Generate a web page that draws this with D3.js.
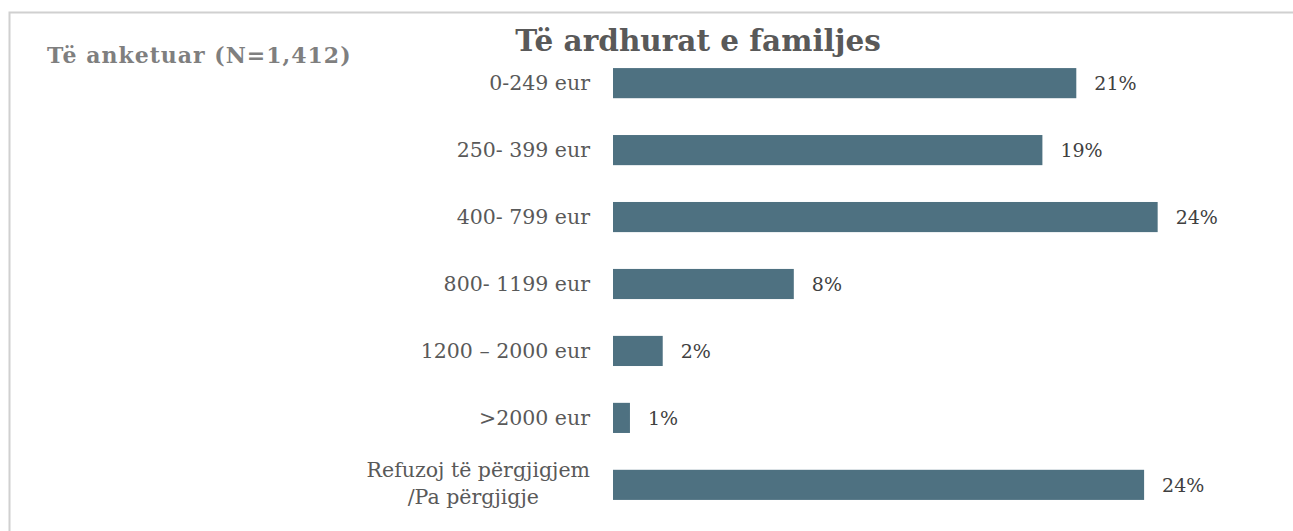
<!DOCTYPE html>
<html>
<head>
<meta charset="utf-8">
<script src="https://cdn.jsdelivr.net/npm/d3@7"></script>
<style>
  body { margin: 0; background: #fff; }
  text { font-family: Georgia, "DejaVu Serif", serif; }
</style>
</head>
<body>
<div class="Graph"></div>
<script>
var categories = ["0-249 eur", "250- 399 eur", "400- 799 eur", "800- 1199 eur", "1200 \u2013 2000 eur", ">2000 eur", "Refuzoj të përgjigjem\n/Pa përgjigje"];
var values = [20.5, 19.0, 24.1, 8.0, 2.2, 0.75, 23.5];
var valueLabels = ["21%", "19%", "24%", "8%", "2%", "1%", "24%"];
var title = "Të ardhurat e familjes";
var subtitle = "Të anketuar (N=1,412)";

var W = 1293, H = 531;
var margin = { top: 50, left: 613, right: 0, bottom: 15 };

var svg = d3.select(".Graph")
    .append("svg")
    .attr("width", W)
    .attr("height", H);

// frame
svg.append("path")
    .attr("d", "M9.5," + H + "V12.5H" + W)
    .attr("fill", "none")
    .attr("stroke", "#d0d0d0")
    .attr("stroke-width", 2);

var x = d3.scaleLinear()
    .domain([0, 1])
    .range([0, 22.6]);

var y = d3.scaleBand()
    .domain(categories)
    .range([50, 518])
    .paddingInner(0.55)
    .paddingOuter(0.27);

var g = svg.append("g")
    .attr("transform", "translate(" + margin.left + ",0)");

g.selectAll(".bar")
    .data(values)
    .enter()
    .append("rect")
    .attr("class", "bar")
    .attr("x", 0)
    .attr("y", (d, i) => y(categories[i]))
    .attr("width", d => x(d))
    .attr("height", y.bandwidth())
    .attr("fill", "#4e7181");

g.selectAll(".val")
    .data(values)
    .enter()
    .append("text")
    .attr("class", "val")
    .attr("x", d => x(d) + 18)
    .attr("y", (d, i) => y(categories[i]) + y.bandwidth() / 2)
    .attr("dy", "0.35em")
    .attr("fill", "#404040")
    .style("font-size", "19px")
    .text((d, i) => valueLabels[i]);

var cat = svg.selectAll(".cat")
    .data(categories)
    .enter()
    .append("text")
    .attr("class", "cat")
    .attr("text-anchor", "end")
    .attr("fill", "#595959")
    .style("font-size", "20.5px")
    .attr("transform", d => "translate(590," + (y(d) + y.bandwidth() / 2) + ")");

cat.each(function(d) {
    var lines = d.split("\n");
    var t = d3.select(this);
    var first = null;
    lines.forEach((l, k) => {
        var ts = t.append("tspan")
            .attr("x", 0)
            .attr("y", lines.length > 1 ? (k - (lines.length - 1) / 2) * 27 - 2 : 0)
            .attr("dy", "0.35em")
            .text(l);
        if (k == 0) first = ts.node().getComputedTextLength();
        else ts.attr("text-anchor", "middle").attr("x", -first / 2 - 5);
    });
});

svg.append("text")
    .attr("x", 698)
    .attr("y", 51)
    .attr("text-anchor", "middle")
    .attr("fill", "#595959")
    .style("font-size", "29.5px")
    .style("font-weight", "bold")
    .text(title);

svg.append("text")
    .attr("x", 47)
    .attr("y", 63)
    .attr("fill", "#7f7f7f")
    .style("font-size", "22px")
    .style("letter-spacing", "1px")
    .style("font-weight", "bold")
    .text(subtitle);
</script>
</body>
</html>
